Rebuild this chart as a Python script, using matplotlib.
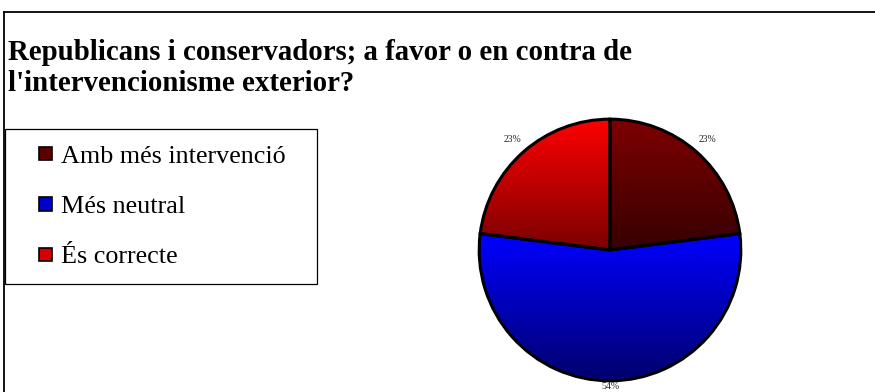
import numpy as np
import matplotlib.pyplot as plt
from matplotlib.patches import Rectangle
from matplotlib.lines import Line2D
from matplotlib.colors import LinearSegmentedColormap
from matplotlib.legend_handler import HandlerPatch

plt.rcParams['font.family'] = ['Liberation Serif', 'DejaVu Serif']

# data
labels = ['Amb més intervenció', 'Més neutral', 'És correcte']
values = [23, 54, 23]
top_colors = ['#7e0000', '#0000ff', '#ff0000']
bottom_colors = ['#360000', '#00006e', '#7a0000']
title = "Republicans i conservadors; a favor o en contra de\nl'intervencionisme exterior?"

W, H = 875, 392
fig = plt.figure(figsize=(W / 100, H / 100), dpi=100)

# outer frame (only top and left edges visible)
fig.add_artist(Line2D([4 / W, 1.0], [1 - 12 / H, 1 - 12 / H], color='black', lw=1.3))
fig.add_artist(Line2D([4 / W, 4 / W], [0.0, 1 - 12 / H], color='black', lw=1.3))

fig.text(8 / W, 1 - 39 / H, title, fontsize=20.8, fontweight='bold', va='top', ha='left',
         linespacing=1.2)

# pie
ax = fig.add_axes([470 / W, 2 / H, 280 / W, 280 / H])
wedges, texts, autotexts = ax.pie(values, startangle=90, counterclock=False,
                                  colors=top_colors, autopct='%1.0f%%', pctdistance=1.13,
                                  wedgeprops=dict(edgecolor='black', linewidth=2.2),
                                  textprops=dict(fontsize=7, color='#222222'))
autotexts[1].set_position((0, -1.04))
ax.set_aspect('equal')
ax.axis('off')

grad = np.linspace(1, 0, 256).reshape(-1, 1)
for w, c1, c2 in zip(wedges, top_colors, bottom_colors):
    bb = w.get_path().get_extents()
    cmap = LinearSegmentedColormap.from_list('g', [c2, c1])
    im = ax.imshow(grad, cmap=cmap, extent=[bb.x0, bb.x1, bb.y0, bb.y1],
                   aspect='auto', zorder=1)
    im.set_clip_path(w)
    w.set_facecolor('none')
    w.set_zorder(2)
ax.set_xlim(-1.07, 1.07)
ax.set_ylim(-1.07, 1.07)


def square_right(legend, orig_handle, xdescent, ydescent, width, height, fontsize):
    s = 0.5 * fontsize
    return Rectangle((-xdescent + width - s, -ydescent + (height - s) / 2), s, s)


# legend
handles = [Rectangle((0, 0), 1, 1, facecolor=c, edgecolor='black', lw=1.2) for c in
           ['#5a0000', '#0000c8', '#d40000']]
leg = fig.legend(handles, labels, loc='upper left', mode='expand',
                 bbox_to_anchor=(5 / W, 1 - 281 / H, 312 / W, 152 / H),
                 fontsize=18.8, frameon=True, fancybox=False, framealpha=1,
                 edgecolor='black', borderaxespad=0, borderpad=0.6,
                 labelspacing=1.03, handlelength=1.2, handleheight=0.7,
                 handletextpad=0.35,
                 handler_map={Rectangle: HandlerPatch(patch_func=square_right)})
leg.get_frame().set_linewidth(0.9)

fig.savefig('out.png', dpi=100)
